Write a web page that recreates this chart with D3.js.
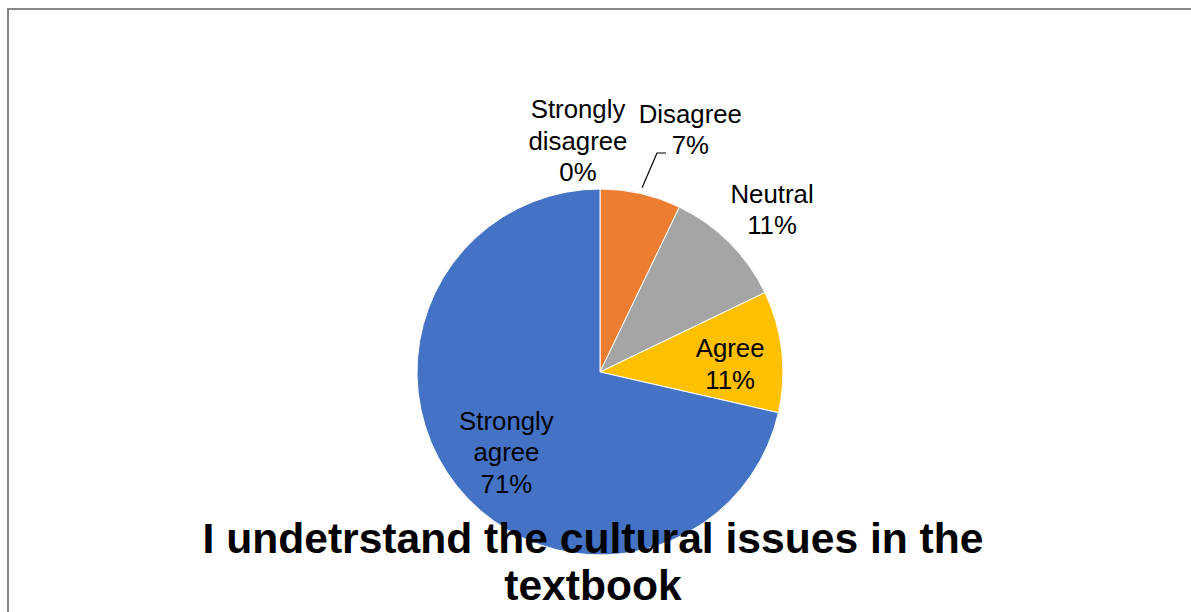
<!DOCTYPE html>
<html>
<head>
<meta charset="utf-8">
<script src="https://cdn.jsdelivr.net/npm/d3@7"></script>
<style>
  html, body { margin: 0; padding: 0; background: #fff; }
  svg { display: block; }
  text { font-family: "Liberation Sans", Arial, sans-serif; fill: #000; }
</style>
</head>
<body>
<svg id="chart" width="1191" height="612"></svg>
<script>
// Data
const categories = ["Strongly disagree", "Disagree", "Neutral", "Agree", "Strongly agree"];
const counts = [0, 2, 3, 3, 20];
const percentLabels = ["0%", "7%", "11%", "11%", "71%"];
const labelLines = [["Strongly", "disagree"], ["Disagree"], ["Neutral"], ["Agree"], ["Strongly", "agree"]];
const colors = ["#5B9BD5", "#ED7D31", "#A5A5A5", "#FFC000", "#4472C4"];
const titleLines = ["I undetrstand the cultural issues in the", "textbook"];

const svg = d3.select("#chart");
const W = 1191, H = 612;

// chart border
svg.append("rect")
  .attr("x", 8).attr("y", 9)
  .attr("width", W + 10).attr("height", H + 10)
  .attr("fill", "#fff")
  .attr("stroke", "#878787")
  .attr("stroke-width", 2);

const cx = 600, cy = 372, R = 183;
const g = svg.append("g").attr("transform", `translate(${cx},${cy})`);

const pie = d3.pie().sort(null).value(d => d);
const arcs = pie(counts);
const arc = d3.arc().innerRadius(0).outerRadius(R);

g.selectAll("path.slice")
  .data(arcs)
  .join("path")
  .attr("class", "slice")
  .attr("d", arc)
  .attr("fill", (d, i) => colors[i])
  .attr("stroke", "#fff")
  .attr("stroke-width", 1);

// label placement: inside for big slices, outside for small ones
const inner = d3.arc().innerRadius(R * 0.71).outerRadius(R * 0.71);
const outer = d3.arc().innerRadius(R * 1.26).outerRadius(R * 1.26);
const insideFlag = [false, false, false, true, true];
const nudge = [[-22, -1], [39, -18], [9, 0], [1, 6], [8, -1]];
const fs = 25.8, lh = 31.5;

arcs.forEach((d, i) => {
  let [x, y] = insideFlag[i] ? inner.centroid(d) : outer.centroid(d);
  if (d.endAngle - d.startAngle === 0) { x = 0; y = -R * 1.26; }
  x += nudge[i][0]; y += nudge[i][1];
  const lines = labelLines[i].concat([percentLabels[i]]);
  const t = g.append("text")
    .attr("text-anchor", "middle")
    .attr("font-size", fs);
  const top = y - (lines.length - 1) * lh / 2 + fs * 0.36;
  lines.forEach((ln, k) => {
    t.append("tspan").attr("x", x).attr("y", top + k * lh).text(ln);
  });
});

// leader line for Disagree
{
  const d = arcs[1];
  const mid = (d.startAngle + d.endAngle) / 2;
  const r0 = R + 6;
  const p0 = [r0 * Math.sin(mid), -r0 * Math.cos(mid)];
  const p1 = [57, -219];
  const p2 = [66, -219];
  g.append("path")
    .attr("d", d3.line()([p0, p1, p2]))
    .attr("fill", "none")
    .attr("stroke", "#000")
    .attr("stroke-width", 1.2);
}

// title
const title = svg.append("text")
  .attr("text-anchor", "middle")
  .attr("font-size", 42.6)
  .attr("font-weight", "bold");
titleLines.forEach((ln, k) => {
  title.append("tspan").attr("x", 593).attr("y", 553 + k * 47).text(ln);
});
</script>
</body>
</html>
